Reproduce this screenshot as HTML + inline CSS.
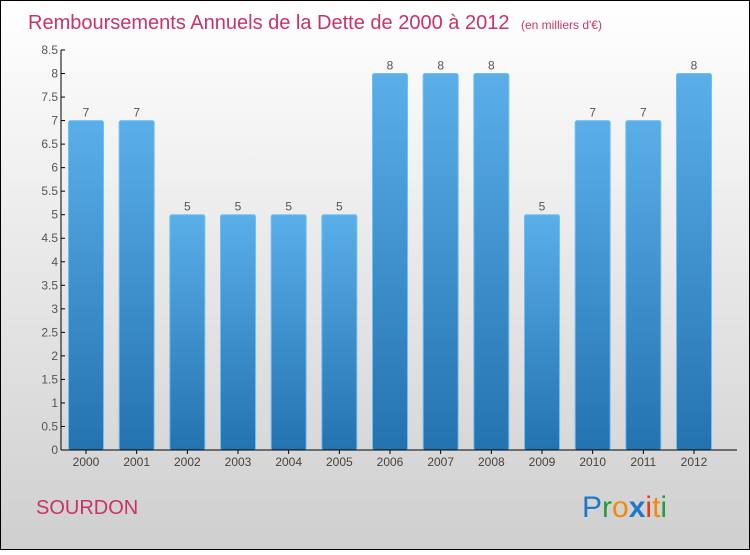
<!DOCTYPE html>
<html><head><meta charset="utf-8"><style>
body{margin:0;width:750px;height:550px;overflow:hidden;font-family:"Liberation Sans",sans-serif}
</style></head><body>
<svg width="750" height="550" viewBox="0 0 750 550">
<defs>
<linearGradient id="bg" x1="0" y1="0" x2="0" y2="1"><stop offset="0" stop-color="#ffffff"/><stop offset="1" stop-color="#cfcfcf"/></linearGradient>
<linearGradient id="bar" x1="0" y1="0" x2="0" y2="1"><stop offset="0" stop-color="#5aafe9"/><stop offset="1" stop-color="#2373b0"/></linearGradient>
</defs>
<rect x="0.5" y="0.5" width="749" height="549" fill="url(#bg)" stroke="#000"/>
<text x="28" y="29" font-size="20" fill="#c8336a">Remboursements Annuels de la Dette de 2000 à 2012 <tspan font-size="12" dx="6">(en milliers d'€)</tspan></text>
<g id="yaxis"></g>
<g id="bars"></g>
<g id="xaxis"></g>
<text x="36" y="514" font-size="20" fill="#c8336a">SOURDON</text>
<g font-size="30" font-family="Liberation Sans, sans-serif">
<text x="582" y="517"><tspan fill="#1f78c8">P</tspan><tspan fill="#2a9a3a">r</tspan><tspan fill="#f08a10">o</tspan><tspan fill="#1f78c8" font-weight="bold">x</tspan><tspan fill="#e83a10">i</tspan><tspan fill="#f08a10">t</tspan><tspan fill="#2a9a3a">i</tspan></text>
</g>
</svg>
<script>
const categories=["2000","2001","2002","2003","2004","2005","2006","2007","2008","2009","2010","2011","2012"];
const values=[7,7,5,5,5,5,8,8,8,5,7,7,8];
const yTicks=[0,0.5,1,1.5,2,2.5,3,3.5,4,4.5,5,5.5,6,6.5,7,7.5,8,8.5];
const NS="http://www.w3.org/2000/svg";
const x0=61,xEnd=737,firstC=86,lastC=694,y0=450,yTop=50,yMax=8.5;
const y=v=>y0-(v/yMax)*(y0-yTop);
const step=(lastC-firstC)/(categories.length-1);
const cx=i=>firstC+step*i;
function mk(t,a,p){const e=document.createElementNS(NS,t);for(const k in a)e.setAttribute(k,a[k]);p.appendChild(e);return e;}
const ya=document.getElementById('yaxis'),xa=document.getElementById('xaxis'),bg=document.getElementById('bars');
let l=mk('line',{x1:x0,y1:y0,x2:x0,y2:yTop,stroke:'#000'},ya);


yTicks.forEach(v=>{
 const t=mk('line',{x1:x0,y1:y(v),x2:x0+4,y2:y(v),stroke:'#000'},ya);
 
 
 const tx=mk('text',{x:x0-3,y:y(v)+4,'font-size':12,fill:'#555','text-anchor':'end'},ya);
 tx.textContent=String(v);
 
 
});
const bw=35;
values.forEach((v,i)=>{
 const r=mk('rect',{x:cx(i)-bw/2,y:y(v),width:bw,height:y0-y(v),fill:'url(#bar)',stroke:'#6cc0f5','stroke-width':1,rx:2},bg);
 
 
 const t=mk('text',{x:cx(i),y:y(v)-4,'font-size':12,fill:'#555','text-anchor':'middle'},bg);
 t.textContent=String(v);
 
 
});
l=mk('line',{x1:x0,y1:y0,x2:xEnd,y2:y0,stroke:'#000'},xa);


categories.forEach((c,i)=>{
 const t=mk('line',{x1:cx(i),y1:y0,x2:cx(i),y2:y0+4,stroke:'#000'},xa);
 
 
 const tx=mk('text',{x:cx(i),y:y0+16,'font-size':12,fill:'#444','text-anchor':'middle'},xa);
 tx.textContent=c;
 
 
});
</script>
</body></html>
